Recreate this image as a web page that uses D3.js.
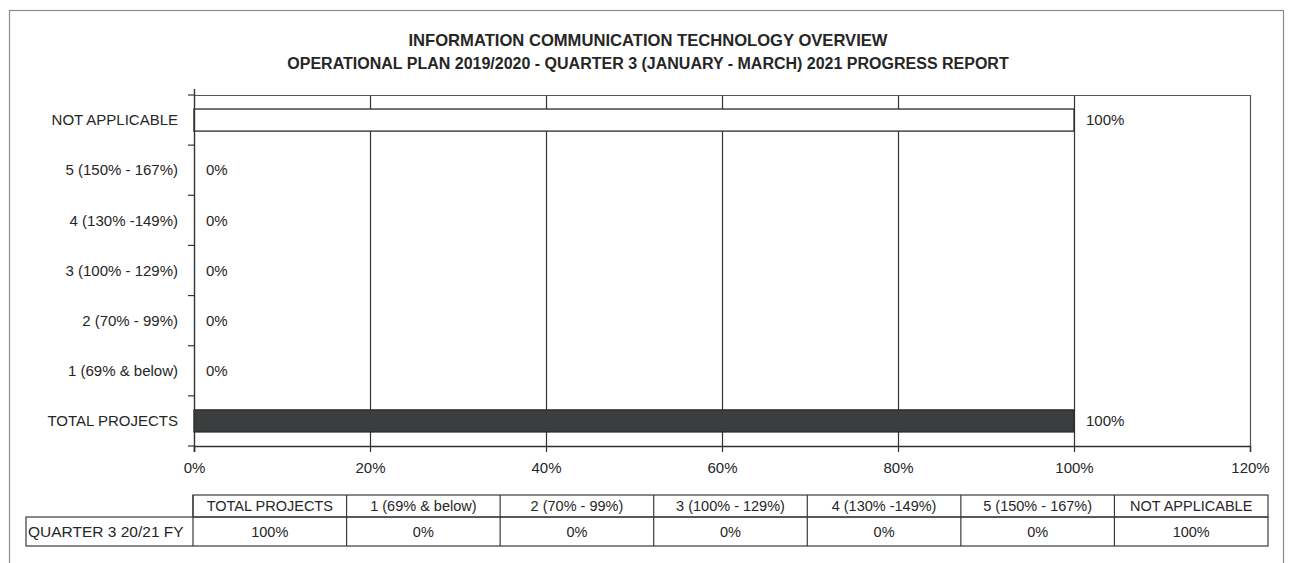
<!DOCTYPE html>
<html>
<head>
<meta charset="utf-8">
<script src="https://cdn.jsdelivr.net/npm/d3@7"></script>
<style>
  html, body { margin: 0; padding: 0; background: #fff; }
  svg { display: block; }
  text { font-family: "Liberation Sans", Arial, sans-serif; fill: #262626; }
</style>
</head>
<body>
<svg id="chart" width="1290" height="563"></svg>
<script>
// Progress categories, bottom to top as in the chart and left to right in the table
const categories = ["TOTAL PROJECTS", "1 (69% & below)", "2 (70% - 99%)", "3 (100% - 129%)",
                    "4 (130% -149%)", "5 (150% - 167%)", "NOT APPLICABLE"];
// Quarter 3 share for each category, in percent
const values = [100, 0, 0, 0, 0, 0, 100];
const seriesName = "QUARTER 3 20/21 FY";
const xTicks = [0, 20, 40, 60, 80, 100, 120];
const titleLines = ["INFORMATION COMMUNICATION TECHNOLOGY OVERVIEW",
                    "OPERATIONAL PLAN 2019/2020 - QUARTER 3 (JANUARY - MARCH) 2021 PROGRESS REPORT"];
const barFills = { "TOTAL PROJECTS": "#3b3e3e", "NOT APPLICABLE": "#ffffff" };

const svg = d3.select("#chart");
const lineColor = "#333";

// outer chart frame
svg.append("rect")
  .attr("x", 9.5).attr("y", 10.5).attr("width", 1274).attr("height", 600)
  .attr("fill", "none").attr("stroke", "#8a8a8a").attr("stroke-width", 1.2);

// titles
svg.selectAll("text.title").data(titleLines).join("text")
  .attr("class", "title")
  .attr("x", 648).attr("y", (d, i) => 46 + i * 23)
  .attr("text-anchor", "middle")
  .attr("font-weight", "bold")
  .attr("font-size", (d, i) => i === 0 ? 16.6 : 16)
  .text(d => d);

// plot geometry
const plot = { left: 194, right: 1250, top: 95, bottom: 446 };
const x = d3.scaleLinear().domain([0, 120]).range([plot.left, plot.right]);
const y = d3.scaleBand()
  .domain(categories.slice().reverse())
  .range([plot.top, plot.bottom])
  .paddingInner(0.56).paddingOuter(0.28);

const g = svg.append("g");

// vertical gridlines
g.selectAll("line.grid").data(xTicks.filter(t => t > 0 && t < 120)).join("line")
  .attr("class", "grid")
  .attr("x1", d => x(d) + 0.5).attr("x2", d => x(d) + 0.5)
  .attr("y1", plot.top).attr("y2", plot.bottom)
  .attr("stroke", lineColor).attr("stroke-width", 1.2);

// plot border (top and right)
g.append("path")
  .attr("d", `M${plot.left},${plot.top + 0.5}H${plot.right + 0.5}V${plot.bottom}`)
  .attr("fill", "none").attr("stroke", "#555").attr("stroke-width", 1.2);

// bars
g.selectAll("rect.bar").data(categories.map((c, i) => ({ c, v: values[i] }))).join("rect")
  .attr("class", "bar")
  .attr("x", x(0))
  .attr("y", d => y(d.c))
  .attr("width", d => x(d.v) - x(0))
  .attr("height", y.bandwidth())
  .attr("fill", d => barFills[d.c] || "#3b3e3e")
  .attr("stroke", d => d.v > 0 ? "#2a2a2a" : "none")
  .attr("stroke-width", 1.3);

// value labels
g.selectAll("text.val").data(categories.map((c, i) => ({ c, v: values[i] }))).join("text")
  .attr("class", "val")
  .attr("x", d => x(d.v) + 12)
  .attr("y", d => y(d.c) + y.bandwidth() / 2)
  .attr("dy", "0.35em")
  .attr("font-size", 15)
  .text(d => d.v + "%");

// x axis
const xAxis = g.append("g")
  .attr("transform", `translate(0,${plot.bottom})`)
  .call(d3.axisBottom(x).tickValues(xTicks).tickFormat(d => d + "%").tickSize(6).tickPadding(10));
xAxis.select(".domain").attr("stroke", lineColor).attr("stroke-width", 1.4);
xAxis.selectAll(".tick line").attr("stroke", lineColor).attr("stroke-width", 1.2);
xAxis.selectAll(".tick text").attr("font-size", 15).attr("fill", "#262626")
  .attr("font-family", "Liberation Sans, Arial, sans-serif");

// y axis: category labels with ticks on band boundaries
const yAxis = g.append("g").attr("transform", `translate(${plot.left},0)`);
yAxis.append("line")
  .attr("x1", 0.5).attr("x2", 0.5).attr("y1", plot.top - 6).attr("y2", plot.bottom + 6)
  .attr("stroke", lineColor).attr("stroke-width", 1.4);
const boundaries = d3.range(categories.length + 1).map(i => plot.top + i * y.step());
yAxis.selectAll("line.tk").data(boundaries).join("line")
  .attr("class", "tk")
  .attr("x1", -6).attr("x2", 0).attr("y1", d => d).attr("y2", d => d)
  .attr("stroke", lineColor).attr("stroke-width", 1.2);
yAxis.selectAll("text.cat").data(categories).join("text")
  .attr("class", "cat")
  .attr("x", -16)
  .attr("y", d => y(d) + y.bandwidth() / 2)
  .attr("dy", "0.35em")
  .attr("text-anchor", "end")
  .attr("font-size", 15)
  .text(d => d);

// data table below the chart
const tbl = { left: 26, right: 1268, top: 495, mid: 517, bottom: 546 };
const col = d3.scaleBand().domain(categories).range([plot.left - 1, tbl.right]);
const t = svg.append("g").attr("stroke", "#3a3a3a").attr("stroke-width", 1.2);

// header row frame
t.append("rect").attr("x", col.range()[0]).attr("y", tbl.top)
  .attr("width", tbl.right - col.range()[0]).attr("height", tbl.mid - tbl.top).attr("fill", "none");
// data row frame
t.append("rect").attr("x", tbl.left).attr("y", tbl.mid)
  .attr("width", tbl.right - tbl.left).attr("height", tbl.bottom - tbl.mid).attr("fill", "none");
// column dividers
t.selectAll("line.cd").data(categories).join("line")
  .attr("class", "cd")
  .attr("x1", d => col(d)).attr("x2", d => col(d))
  .attr("y1", tbl.top).attr("y2", tbl.bottom);

svg.selectAll("text.th").data(categories).join("text")
  .attr("class", "th")
  .attr("x", d => col(d) + col.bandwidth() / 2)
  .attr("y", (tbl.top + tbl.mid) / 2).attr("dy", "0.35em")
  .attr("text-anchor", "middle").attr("font-size", 14.5)
  .text(d => d);

svg.selectAll("text.td").data(categories.map((c, i) => ({ c, v: values[i] }))).join("text")
  .attr("class", "td")
  .attr("x", d => col(d.c) + col.bandwidth() / 2)
  .attr("y", (tbl.mid + tbl.bottom) / 2).attr("dy", "0.35em")
  .attr("text-anchor", "middle").attr("font-size", 14.5)
  .text(d => d.v + "%");

svg.append("text")
  .attr("x", tbl.left + 2).attr("y", (tbl.mid + tbl.bottom) / 2).attr("dy", "0.35em")
  .attr("font-size", 15.5)
  .text(seriesName);
</script>
</body>
</html>
